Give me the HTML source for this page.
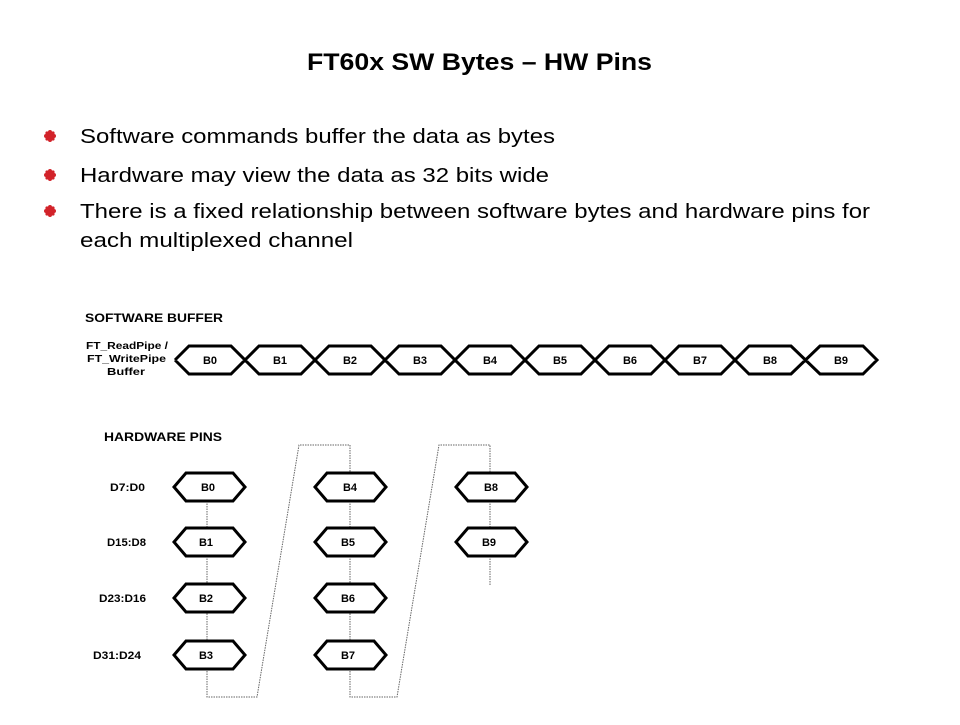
<!DOCTYPE html>
<html><head><meta charset="utf-8"><style>
body{margin:0;background:#fff;width:960px;height:720px;overflow:hidden;font-family:"Liberation Sans",Arial,sans-serif;}
</style></head><body>
<svg width="960" height="720" xmlns="http://www.w3.org/2000/svg" font-family="Liberation Sans, Arial, sans-serif">
<text x="307" y="70" font-size="24" font-weight="bold" fill="#000" textLength="345" lengthAdjust="spacingAndGlyphs">FT60x SW Bytes – HW Pins</text>
<g fill="#d2232a">
<g transform="translate(50,136)"><circle r="3.5"/><circle cx="0" cy="-4" r="2"/><circle cx="0" cy="4" r="2"/><circle cx="-4" cy="0" r="2"/><circle cx="4" cy="0" r="2"/><circle cx="-3" cy="-3" r="1.6"/><circle cx="3" cy="3" r="1.6"/><circle cx="3" cy="-3" r="1.6"/><circle cx="-3" cy="3" r="1.6"/></g>
<g transform="translate(50,175)"><circle r="3.5"/><circle cx="0" cy="-4" r="2"/><circle cx="0" cy="4" r="2"/><circle cx="-4" cy="0" r="2"/><circle cx="4" cy="0" r="2"/><circle cx="-3" cy="-3" r="1.6"/><circle cx="3" cy="3" r="1.6"/><circle cx="3" cy="-3" r="1.6"/><circle cx="-3" cy="3" r="1.6"/></g>
<g transform="translate(50,211)"><circle r="3.5"/><circle cx="0" cy="-4" r="2"/><circle cx="0" cy="4" r="2"/><circle cx="-4" cy="0" r="2"/><circle cx="4" cy="0" r="2"/><circle cx="-3" cy="-3" r="1.6"/><circle cx="3" cy="3" r="1.6"/><circle cx="3" cy="-3" r="1.6"/><circle cx="-3" cy="3" r="1.6"/></g>
</g>
<g fill="#000" font-size="20">
<text x="80" y="143" textLength="475" lengthAdjust="spacingAndGlyphs">Software commands buffer the data as bytes</text>
<text x="80" y="182" textLength="469" lengthAdjust="spacingAndGlyphs">Hardware may view the data as 32 bits wide</text>
<text x="80" y="218" textLength="790" lengthAdjust="spacingAndGlyphs">There is a fixed relationship between software bytes and hardware pins for</text>
<text x="80" y="247" textLength="273" lengthAdjust="spacingAndGlyphs">each multiplexed channel</text>
</g>
<g font-size="12" font-weight="bold" fill="#000">
<text x="85" y="322" textLength="138" lengthAdjust="spacingAndGlyphs">SOFTWARE BUFFER</text>
<text x="86" y="349" font-size="10.5" textLength="82" lengthAdjust="spacingAndGlyphs">FT_ReadPipe /</text>
<text x="87" y="362" font-size="10.5" textLength="79" lengthAdjust="spacingAndGlyphs">FT_WritePipe</text>
<text x="107" y="375" font-size="10.5" textLength="38" lengthAdjust="spacingAndGlyphs">Buffer</text>
<text x="104" y="441" textLength="118" lengthAdjust="spacingAndGlyphs">HARDWARE PINS</text>
<text x="110" y="491" font-size="11" textLength="35" lengthAdjust="spacingAndGlyphs">D7:D0</text>
<text x="107" y="546" font-size="11" textLength="39" lengthAdjust="spacingAndGlyphs">D15:D8</text>
<text x="99" y="602" font-size="11" textLength="47" lengthAdjust="spacingAndGlyphs">D23:D16</text>
<text x="93" y="659" font-size="11" textLength="48" lengthAdjust="spacingAndGlyphs">D31:D24</text>
</g>
<g stroke="#000" stroke-width="3" fill="none">
<polyline points="175,360 189,346 231,346 259,374 301,374 329,346 371,346 399,374 441,374 469,346 511,346 539,374 581,374 609,346 651,346 679,374 721,374 749,346 791,346 820,374 863,374 877,360 863,346 820,346 791,374 749,374 721,346 679,346 651,374 609,374 581,346 539,346 511,374 469,374 441,346 399,346 371,374 329,374 301,346 259,346 231,374 189,374 175,360"/>
</g>
<g font-size="11" font-weight="bold" text-anchor="middle" fill="#000">
<text x="210" y="364">B0</text><text x="280" y="364">B1</text><text x="350" y="364">B2</text><text x="420" y="364">B3</text><text x="490" y="364">B4</text><text x="560" y="364">B5</text><text x="630" y="364">B6</text><text x="700" y="364">B7</text><text x="770" y="364">B8</text><text x="841" y="364">B9</text>
</g>
<g stroke="#666" stroke-width="1" stroke-dasharray="1.5,1" fill="none">
<polyline points="207,501 207,697 257,697 299,445 350,445 350,472"/>
<polyline points="350,501 350,697 397,697 439,445 490,445 490,472"/>
<line x1="490" y1="501" x2="490" y2="585"/>
</g>
<g stroke="#000" stroke-width="3" fill="#fff">
<polygon points="174,487 186,473 233,473 245,487 233,501 186,501"/>
<polygon points="174,542 186,528 233,528 245,542 233,556 186,556"/>
<polygon points="174,598 186,584 233,584 245,598 233,612 186,612"/>
<polygon points="174,655 186,641 233,641 245,655 233,669 186,669"/>
<polygon points="315,487 327,473 374,473 386,487 374,501 327,501"/>
<polygon points="315,542 327,528 374,528 386,542 374,556 327,556"/>
<polygon points="315,598 327,584 374,584 386,598 374,612 327,612"/>
<polygon points="315,655 327,641 374,641 386,655 374,669 327,669"/>
<polygon points="456,487 468,473 515,473 527,487 515,501 468,501"/>
<polygon points="456,542 468,528 515,528 527,542 515,556 468,556"/>
</g>
<g font-size="11" font-weight="bold" text-anchor="middle" fill="#000">
<text x="208" y="491">B0</text><text x="206" y="546">B1</text><text x="206" y="602">B2</text><text x="206" y="659">B3</text>
<text x="350" y="491">B4</text><text x="348" y="546">B5</text><text x="348" y="602">B6</text><text x="348" y="659">B7</text>
<text x="491" y="491">B8</text><text x="489" y="546">B9</text>
</g>
</svg>
</body></html>
